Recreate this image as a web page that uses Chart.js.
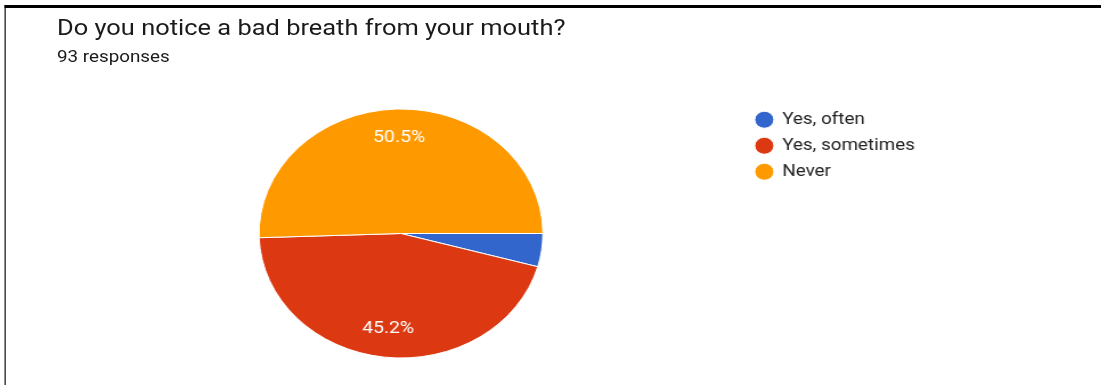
<!DOCTYPE html>
<html>
<head>
<meta charset="utf-8">
<script src="https://cdn.jsdelivr.net/npm/chart.js@4"></script>
<style>
 html, body { margin: 0; padding: 0; background: #fff; }
 body { width: 1101px; height: 385px; overflow: hidden; position: relative; }
 /* the reference screenshot is stretched sideways, so the whole card is scaled on x */
 #card { position: absolute; left: 0; top: 0; width: 966px; height: 385px; transform: scaleX(1.14); transform-origin: 0 0; }
 #frame { position: absolute; left: 4px; top: 5px; right: -10px; bottom: -10px; border-top: 3px solid #000; border-left: 1.8px solid #000; }
 #title { position: absolute; left: 50px; top: 16px; font: 22.3px/22px Roboto, sans-serif; color: #1a1a1a; white-space: nowrap; }
 #sub { position: absolute; left: 50px; top: 49px; font: 16.5px/16px Roboto, sans-serif; color: #1a1a1a; white-space: nowrap; }
 #c { position: absolute; left: 0; top: 0; }
</style>
</head>
<body>
<div id="card">
 <div id="frame"></div>
 <div id="title">Do you notice a bad breath from your mouth?</div>
 <div id="sub">93 responses</div>
 <canvas id="c" width="966" height="385"></canvas>
</div>
<script>
// data
const labels = ['Yes, often', 'Yes, sometimes', 'Never'];
const counts = [4, 42, 47];
const colors = ['#3366cc', '#dc3912', '#ff9900'];
const totalResponses = 93;

document.getElementById('sub').textContent = totalResponses + ' responses';

Chart.defaults.font.family = 'Roboto';

// white percentage text inside the big slices
const sliceLabels = {
 id: 'sliceLabels',
 afterDatasetsDraw(chart) {
  const ctx = chart.ctx;
  const meta = chart.getDatasetMeta(0);
  const total = counts.reduce((a, b) => a + b, 0);
  meta.data.forEach((arc, i) => {
   const pct = counts[i] / total * 100;
   if (pct < 10) return; // small slice gets no label
   const p = arc.getProps(['x', 'y', 'startAngle', 'endAngle', 'outerRadius'], true);
   const mid = (p.startAngle + p.endAngle) / 2;
   const r = p.outerRadius * 0.77;
   ctx.save();
   ctx.fillStyle = '#fff';
   ctx.font = '17px Roboto';
   ctx.textAlign = 'center';
   ctx.textBaseline = 'middle';
   ctx.fillText(pct.toFixed(1) + '%', p.x + Math.cos(mid) * r, p.y + Math.sin(mid) * r);
   ctx.restore();
  });
 }
};

new Chart(document.getElementById('c'), {
 type: 'pie',
 data: {
  labels: labels,
  datasets: [{
   data: counts,
   backgroundColor: colors,
   borderColor: '#fff',
   borderWidth: 1
  }]
 },
 options: {
  responsive: false,
  animation: false,
  events: [],
  rotation: 90,
  radius: 124.5,
  layout: { padding: { left: 50, right: 153.5, top: 102, bottom: 20 } },
  plugins: {
   tooltip: { enabled: false },
   legend: {
    position: 'right',
    align: 'start',
    labels: {
     usePointStyle: true,
     pointStyle: 'circle',
     boxWidth: 15,
     boxHeight: 12,
     padding: 9.5,
     color: '#222',
     font: { size: 16.5 }
    }
   }
  }
 },
 plugins: [sliceLabels]
});
</script>
</body>
</html>
